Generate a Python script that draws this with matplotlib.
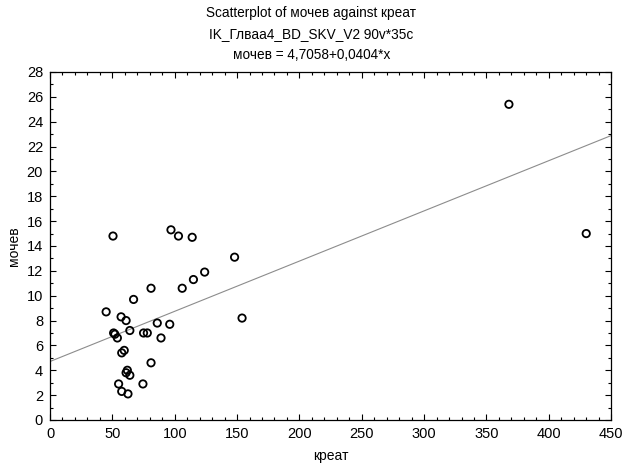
import matplotlib
matplotlib.use("Agg")
import matplotlib.pyplot as plt
import numpy as np
from matplotlib.ticker import MultipleLocator

plt.rcParams['font.family'] = ['Liberation Sans', 'DejaVu Sans']

# dados
kreat = [368, 430, 50.5, 97, 103, 114, 148, 124, 115, 106, 81, 67, 45, 57, 61,
         154, 86, 96, 64, 75, 78, 51, 52, 54, 89, 59.5, 57.5, 81, 62, 61, 64,
         55, 74.5, 57.5, 62.5]
mochev = [25.4, 15.0, 14.8, 15.3, 14.8, 14.7, 13.1, 11.9, 11.3, 10.6, 10.6, 9.7,
          8.7, 8.3, 8.0, 8.2, 7.8, 7.7, 7.2, 7.0, 7.0, 7.0, 6.9, 6.6, 6.6, 5.6,
          5.4, 4.6, 4.0, 3.8, 3.6, 2.9, 2.9, 2.3, 2.1]
intercept = 4.7058
slope = 0.0404

fig = plt.figure(figsize=(6.23, 4.63), dpi=100)
ax = fig.add_axes([0.0803, 0.0929, 0.9007, 0.7516])

xs = np.array([0, 450])
ax.plot(xs, intercept + slope * xs, color='#8c8c8c', lw=0.8, zorder=1)
ax.scatter(kreat, mochev, s=28, facecolors='none', edgecolors='black',
           linewidths=1.3, zorder=2)

ax.set_xlim(0, 450)
ax.set_ylim(0, 28)
ax.xaxis.set_major_locator(MultipleLocator(50))
ax.xaxis.set_minor_locator(MultipleLocator(10))
ax.yaxis.set_major_locator(MultipleLocator(2))
ax.yaxis.set_minor_locator(MultipleLocator(1))
ax.tick_params(which='both', direction='in', top=True, right=True,
               labeltop=False, labelright=False, labelsize=10.5, pad=5)
ax.tick_params(which='major', length=4, width=0.8)
ax.tick_params(which='minor', length=2.5, width=0.8)
for sp in ax.spines.values():
    sp.set_linewidth(0.9)

ax.set_xlabel('креат', fontsize=10, labelpad=6)
ax.set_ylabel('мочев', fontsize=10, labelpad=4)
fig.text(0.5, 0.986, 'Scatterplot of мочев against креат\n'
         'IK_Глваа4_BD_SKV_V2 90v*35c\n'
         'мочев = 4,7058+0,0404*x',
         fontsize=9.8, ha='center', va='top', linespacing=1.62)

plt.savefig('out.png', dpi=100)
